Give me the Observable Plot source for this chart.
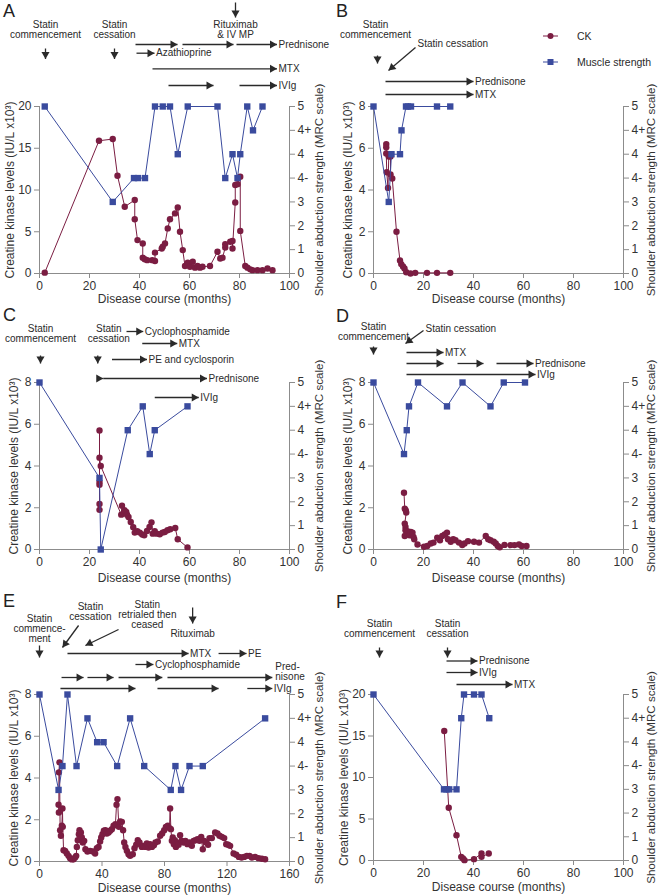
<!DOCTYPE html>
<html><head><meta charset="utf-8">
<script src="https://cdn.jsdelivr.net/npm/d3@7"></script>
<script src="https://cdn.jsdelivr.net/npm/@observablehq/plot@0.6"></script>
<style>
body{margin:0;background:#fff;font-family:"Liberation Sans",Arial,sans-serif;}
#root{position:relative;width:658px;height:896px;overflow:hidden;background:#fff}
#root svg{position:absolute;overflow:visible;background:transparent}
.letter{position:absolute;font-size:18px;line-height:18px;color:#222}
</style></head><body><div id="root"></div>
<script>
// ---------- shared ----------
const MRC = ["0","1","2","3","4-","4","4+","5"];
const SERIES = ["CK", "Muscle strength"];
const X_TITLE = "Disease course (months)";
const Y_TITLE = "Creatine kinase levels (IU/L x10³)";
const Y2_TITLE = "Shoulder abduction strength (MRC scale)";

// ---------- Panel A ----------
const A_ck = [[2.1,0.1],[23.8,15.9],[29.3,16.1],[31.2,11.7],[34.1,8.0],[38.1,8.8],[38.1,6.5],[39.2,4.0],[41.3,3.6],[41.3,1.9],[42.1,1.7],[43.1,1.6],[45.1,1.6],[46.2,1.5],[46.2,2.5],[48.9,3.0],[49.3,3.2],[50.2,3.6],[51.3,5.4],[52.2,6.5],[54.2,7.2],[55.3,7.9],[56.2,5.0],[57.3,2.8],[58.2,0.9],[59.3,1.3],[60.2,0.8],[61.3,1.4],[62.2,0.7],[63.2,0.9],[64.2,0.7],[65.2,0.8],[68.2,0.9],[71.2,2.6],[72.3,1.8],[73.2,1.9],[74.3,3.1],[74.3,3.5],[76.3,3.8],[77.2,3.9],[77.2,3.0],[78.3,8.5],[78.3,10.6],[79.2,10.7],[80.3,11.6],[80.3,5.1],[82.3,0.9],[83.2,0.7],[84.3,0.5],[85.2,0.4],[87.2,0.4],[89.2,0.4],[91.2,0.6],[93.2,0.4]];
const A_ms = [[2.1,"5"],[29.3,"3"],[37.8,"4-"],[39.4,"4-"],[42.2,"4-"],[46.2,"5"],[49.3,"5"],[52.2,"5"],[55.3,"4"],[59.3,"5"],[71.2,"5"],[74.3,"4-"],[77.2,"4"],[79.2,"4-"],[80.3,"4"],[83.1,"5"],[85.4,"4+"],[89.2,"5"]];
const A_events = [{t:"Statin\ncommencement",x:2.4},{t:"Statin\ncessation",x:30},{t:"Rituximab\n& IV MP",x:78.4}];
const A_treat = [{from:38.4,to:55.2,row:0},{from:57.2,to:77.6,row:0},{from:78.8,to:95,row:0,label:"Prednisone"},{from:38.8,to:46,row:1,label:"Azathioprine"},{from:45.2,to:95,row:2,label:"MTX"},{from:51.6,to:69.6,row:3},{from:80,to:95,row:3,label:"IVIg"}];

// ---------- Panel B ----------
const B_ck = [[5.1,6.2],[5.1,6.05],[5.1,5.75],[5.3,4.85],[5.8,4.1],[6.1,5.6],[6.8,5.6],[6.8,4.75],[7.5,4.55],[9.2,2.0],[10.6,0.62],[11.1,0.45],[11.8,0.34],[12.4,0.24],[13.1,0.06],[14.8,0],[16.7,0.03],[21.4,0.03],[25.4,0.03],[30.7,0.03]];
const B_ms = [[0,"5"],[6.1,"3"],[7.2,"4"],[10.6,"4"],[11.2,"4+"],[13.0,"5"],[13.8,"5"],[15.0,"5"],[25.4,"5"],[30.7,"5"]];
const B_events = [{t:"Statin\ncommencement",x:0.8,arrowX:1.6},{t:"Statin cessation",x:17.6,arrowFrom:16.8,arrowX:6}];
const B_treat = [{from:4.8,to:40,row:0,label:"Prednisone"},{from:4.8,to:40,row:1,label:"MTX"}];

// ---------- Panel C ----------
const C_ck = [[24,1.9],[24,2.18],[24,3.1],[24,3.23],[24,5.7],[24,4.4],[24.5,4.0],[32.7,1.67],[33,2.1],[34,1.88],[34.7,1.8],[35,1.67],[35.6,1.56],[36.5,1.32],[37.5,1.07],[38.1,0.81],[39.1,0.88],[40.1,0.81],[41.1,0.72],[41.9,0.68],[43,0.89],[44,1.08],[44.8,1.3],[45.3,0.76],[46.1,0.88],[46.9,0.76],[48.1,0.73],[49.2,0.81],[50.1,0.84],[51.2,0.92],[52.3,0.97],[54.3,1.03],[55.3,0.49],[59.2,0.1]];
const C_ms = [[0,"5"],[24,"3"],[24.5,"0"],[35.3,"4"],[41.3,"4+"],[44.1,"4-"],[46.1,"4"],[59.2,"4+"]];
const C_events = [{t:"Statin\ncommencement",x:0.4},{t:"Statin\ncessation",x:27.7,arrowX:23.3}];
const C_treat = [{from:34.8,to:41.5,row:0,label:"Cyclophosphamide"},{from:41.1,to:55.1,row:1,label:"MTX"},{from:29,to:43,row:2,label:"PE and cyclosporin"},{from:23.3,to:25.5,row:3},{from:25.5,to:67,row:3,label:"Prednisone"},{from:46.1,to:63.7,row:4,label:"IVIg"}];

// ---------- Panel D ----------
const D_ck = [[12.2,2.72],[12.5,1.96],[12.9,1.88],[13.1,1.77],[12.5,1.24],[12.8,1.08],[12.8,0.92],[12.5,0.65],[13.6,0.76],[13.8,0.87],[14.4,0.68],[14.9,0.84],[15.6,0.81],[16,0.6],[16.3,0.49],[17.6,0.24],[20.2,0.13],[21.5,0.17],[22.9,0.29],[24,0.33],[25.5,0.56],[26.6,0.44],[27.5,0.65],[28.5,0.72],[29.4,0.81],[29.8,0.49],[30.9,0.37],[31.9,0.49],[32.8,0.44],[34.2,0.33],[35.5,0.21],[36.4,0.29],[37.8,0.4],[40.2,0.37],[42.2,0.33],[44.9,0.65],[45.9,0.49],[46.8,0.44],[48.1,0.37],[48.9,0.29],[49.7,0.17],[50.5,0.11],[52.4,0.22],[54.8,0.21],[56.4,0.21],[58.2,0.24],[59.3,0.17],[61.2,0.17]];
const D_ms = [[0,"5"],[12.2,"4-"],[13.3,"4"],[14.2,"4+"],[17.8,"5"],[29.4,"4+"],[35.6,"5"],[46.8,"4+"],[52.1,"5"],[60.6,"5"]];
const D_events = [{t:"Statin\ncommencement",x:0},{t:"Statin cessation",x:20.8,arrowFrom:20,arrowX:12.8}];
const D_treat = [{from:13.2,to:28,row:0,label:"MTX"},{from:13.2,to:28,row:1},{from:33.6,to:44,row:1},{from:49.2,to:64,row:1,label:"Prednisone"},{from:13.2,to:64.8,row:2,label:"IVIg"}];

// ---------- Panel E ----------
const E_ck = [[12.2,2.72],[12.4,2.35],[12.4,4.27],[12.8,4.75],[13.2,1.5],[13.7,1.23],[14.3,1.71],[14.7,2.54],[14.9,1.66],[15.4,0.54],[16.4,0.51],[17.5,0.38],[18.6,0.27],[19.6,0.16],[20.7,0.1],[21.8,0.11],[22.8,0.19],[23.5,0.27],[23.9,0.7],[24.5,1.02],[25.2,1.31],[25.6,1.5],[26.5,1.39],[27.1,1.15],[27.7,0.91],[28.6,0.99],[29.4,0.59],[30.7,0.48],[32.4,0.51],[34.1,0.48],[35.6,0.38],[36.7,0.64],[37.8,0.7],[38.8,0.96],[39.5,1.15],[40.3,1.31],[41.2,1.47],[42.2,1.5],[43.1,1.34],[44.2,1.39],[45.2,1.47],[46.3,1.55],[47.4,1.71],[48.6,1.79],[49.3,2.72],[49.9,2.99],[50.8,1.66],[51.6,1.92],[52.7,1.9],[53.5,1.5],[54.2,0.91],[55,0.7],[55.9,0.51],[57,0.35],[58,0.27],[59.7,0.35],[60.8,0.64],[61.9,0.8],[62.9,1.02],[64,0.91],[65.5,0.7],[66.6,0.75],[67.8,0.7],[68.7,0.86],[69.8,0.67],[70.8,0.83],[71.9,0.7],[73.2,0.78],[74.2,0.91],[75.7,0.96],[77.2,1.23],[78.5,1.34],[79.8,1.5],[80.9,1.66],[82.1,1.71],[83.2,1.6],[83.6,2.54],[84.1,1.55],[84.7,0.99],[85.3,1.15],[86,0.83],[86.6,1.02],[87.3,0.7],[88.1,0.91],[89,0.8],[90,1.26],[91.1,0.99],[92.2,0.91],[93.4,0.99],[94.7,0.83],[96,0.91],[97.5,0.75],[98.6,0.99],[99.8,1.02],[101.1,1.07],[102.4,0.99],[103.5,1.18],[104.5,0.59],[105.4,0.99],[106.7,0.91],[107.9,0.8],[108.8,1.12],[110.3,1.12],[112.4,1.39],[113.9,1.34],[115.2,1.23],[116.7,1.18],[118.2,1.12],[119.5,0.83],[120.7,0.8],[122,0.75],[124.2,0.38],[125.9,0.32],[127.6,0.22],[129.3,0.19],[131,0.22],[132.7,0.27],[134.4,0.27],[135.9,0.19],[138,0.22],[140.2,0.16],[142.3,0.13],[144.4,0.11]];
const E_ms = [[0,"5"],[12.2,"3"],[14.7,"4-"],[17.9,"5"],[23.7,"4-"],[30.7,"4+"],[36.9,"4"],[41,"4"],[49.7,"4-"],[58,"4+"],[67,"4-"],[84,"3"],[87,"4-"],[90.6,"3"],[96,"4-"],[104.5,"4-"],[144.4,"4+"]];
const E_events = [{t:"Statin\ncommence-\nment",x:0},{t:"Statin\ncessation",x:32.6,arrowFrom:25,arrowX:14.7},{t:"Statin\nretrialed then\nceased",x:69,arrowFrom:50.6,arrowX:29.4},{t:"Rituximab",x:98},{t:"Pred-\nnisone",x:149}];
const E_treat = [{from:17.9,to:95.4,row:0,label:"MTX"},{from:114.6,to:132.5,row:0,label:"PE"},{from:61.4,to:72.9,row:1,label:"Cyclophosphamide"},{from:14.1,to:28.2,row:2},{from:30.7,to:47.4,row:2},{from:50.6,to:78.6,row:2},{from:81.9,to:149,row:2},{from:13.4,to:61.4,row:3},{from:75.5,to:114.6,row:3},{from:133,to:149,row:3,label:"IVIg"}];

// ---------- Panel F ----------
const F_ck = [[28.3,15.6],[30.1,6.35],[33.2,3.05],[35.1,0.44],[35.8,0.24],[36.4,0.04],[40.2,0.16],[43.2,0.84],[43.2,0.44],[46.1,0.84]];
const F_ms = [[0,"5"],[28.2,"3"],[29.2,"3"],[30.3,"3"],[33.2,"3"],[35.1,"4+"],[36.2,"5"],[40.2,"5"],[43.2,"5"],[46.3,"4+"]];
const F_events = [{t:"Statin\ncommencement",x:2.4},{t:"Statin\ncessation",x:29.6}];
const F_treat = [{from:29.2,to:41.6,row:0,label:"Prednisone"},{from:29.2,to:41.6,row:1,label:"IVIg"},{from:33.2,to:55.6,row:2,label:"MTX"}];

// ---------- styling / layout ----------
const INK = "#2a2a2a", AXIS = "#8c8c8c", CK_COLOR = "#7b1d42", MS_COLOR = "#3a4b9e";
const FONT = "Liberation Sans, Arial, Helvetica, sans-serif";
const HEAD_BACK = 4.66;

// layout: pixel heights (above plot top) for text / arrows of each event and each treatment row
const panels = [
  {id:"A", left:0, top:0, W:330, H:305, mL:39, mR:41, mT:106, mB:32, xmax:100, ymax:20,
   xticks:[0,20,40,60,80,100], yticks:[0,5,10,15,20], yTitleDx:-29, y2TitleDx:30, xTitleDy:26,
   ck:A_ck, ms:A_ms, events:A_events, treat:A_treat,
   evLayout:[{up:76.5,a1:58,a2:47.5},{up:76.5,a1:58,a2:47.5},{up:76.5,a1:104,a2:89}],
   rowUp:[62,53.3,37.7,21]},
  {id:"B", left:330, top:0, W:328, H:305, mL:43, mR:35, mT:106, mB:32, xmax:100, ymax:8,
   xticks:[0,20,40,60,80,100], yticks:[0,2,4,6,8], yTitleDx:-25, y2TitleDx:28, xTitleDy:26,
   ck:B_ck, ms:B_ms, events:B_events, treat:B_treat,
   evLayout:[{up:76.5,a1:51,a2:43},{up:63,anchor:"start",a1:59,a2:36}],
   rowUp:[25,12]},
  {id:"C", left:0, top:300, W:330, H:295, mL:39, mR:41, mT:82, mB:46, xmax:100, ymax:8,
   xticks:[0,20,40,60,80,100], yticks:[0,2,4,6,8], yTitleDx:-25, y2TitleDx:30, xTitleDy:28.5,
   ck:C_ck, ms:C_ms, events:C_events, treat:C_treat,
   evLayout:[{up:49,a1:27,a2:19},{up:49,a1:27,a2:19}],
   rowUp:[51,39,23,4,-15]},
  {id:"D", left:330, top:300, W:328, H:295, mL:43, mR:35, mT:82, mB:46, xmax:100, ymax:8,
   xticks:[0,20,40,60,80,100], yticks:[0,2,4,6,8], yTitleDx:-25, y2TitleDx:28, xTitleDy:28.5,
   ck:D_ck, ms:D_ms, events:D_events, treat:D_treat,
   evLayout:[{up:50.5,a1:36,a2:28},{up:54,anchor:"start",a1:52,a2:39}],
   rowUp:[30,19,8]},
  {id:"E", left:0, top:595, W:330, H:301, mL:39, mR:41, mT:99, mB:35, xmax:160, ymax:8,
   xticks:[0,40,80,120,160], yticks:[0,2,4,6,8], yTitleDx:-25, y2TitleDx:30, xTitleDy:27,
   ck:E_ck, ms:E_ms, events:E_events, treat:E_treat,
   evLayout:[{up:66,a1:49,a2:37},{up:82.5,a1:69,a2:47},{up:79.5,a1:65,a2:49},{up:61,a1:87,a2:71},{up:22.5,anchor:"start"}],
   rowUp:[41,30,17,6]},
  {id:"F", left:330, top:595, W:328, H:301, mL:43, mR:35, mT:99, mB:36, xmax:100, ymax:20,
   xticks:[0,20,40,60,80,100], yticks:[0,5,10,15,20], yTitleDx:-29, y2TitleDx:28, xTitleDy:27,
   ck:F_ck, ms:F_ms, events:F_events, treat:F_treat,
   evLayout:[{up:65.5,a1:47,a2:37},{up:65.5,a1:47,a2:37}],
   rowUp:[33.5,22,10]}
];
const letterPos = {A:[3,2],B:[336,2],C:[3,306],D:[336,307],E:[3,592],F:[336,593]};

const root = document.getElementById("root");

function drawPanel(p) {
  const plotW = p.W - p.mL - p.mR, plotH = p.H - p.mT - p.mB;
  const pxX = plotW / p.xmax, pxY = plotH / p.ymax;
  const yUp = up => p.ymax + up / pxY;
  const ck = p.ck.map(([m, v]) => ({m, v}));
  const ms = p.ms.map(([m, g]) => ({m, v: MRC.indexOf(g) * p.ymax / 7}));

  // event labels and pointer arrows
  const notesMid = [], notesStart = [], arrows = [];
  p.events.forEach((e, i) => {
    const L = p.evLayout[i];
    const note = {x: e.x, y: yUp(L.up), t: e.t};
    (L.anchor === "start" ? notesStart : notesMid).push(note);
    if (L.a1 !== undefined) {
      const xTip = e.arrowX ?? e.x;
      const xTail = e.arrowFrom ?? xTip;
      arrows.push({x1: xTail, y1: yUp(L.a1), x2: xTip, y2: yUp(L.a2)});
    }
  });
  // treatment arrows
  const rowLabels = [];
  p.treat.forEach(r => {
    const y = yUp(p.rowUp[r.row]);
    arrows.push({x1: r.from, y1: y, x2: r.to, y2: y});
    if (r.label) rowLabels.push({x: r.to, y, t: r.label});
  });
  const heads = arrows.map(a => {
    const sx = (a.x2 - a.x1) * pxX, sy = -(a.y2 - a.y1) * pxY;
    const len = Math.hypot(sx, sy) || 1;
    return {x: a.x2 - (sx / len * HEAD_BACK) / pxX,
            y: a.y2 + (sy / len * HEAD_BACK) / pxY,
            angle: Math.atan2(sx, -sy) * 180 / Math.PI};
  });
  const mrcTicks = d3.range(8).map(i => i * p.ymax / 7);

  const svg = Plot.plot({
    width: p.W, height: p.H,
    marginLeft: p.mL, marginRight: p.mR, marginTop: p.mT, marginBottom: p.mB,
    x: {domain: [0, p.xmax], label: null},
    y: {domain: [0, p.ymax], label: null},
    style: {fontFamily: FONT, fontSize: "12px", color: "#333", background: "transparent", overflow: "visible"},
    marks: [
      Plot.ruleY([0], {stroke: AXIS}),
      Plot.ruleX([0], {y1: 0, y2: p.ymax, stroke: AXIS}),
      Plot.ruleX([p.xmax], {y1: 0, y2: p.ymax, stroke: AXIS}),
      Plot.axisX(p.xticks, {anchor: "bottom", tickSize: 5, tickPadding: 3, stroke: AXIS, label: null}),
      Plot.axisY(p.yticks, {anchor: "left", tickSize: 5, tickPadding: 3, stroke: AXIS, label: null}),
      Plot.axisY(mrcTicks, {anchor: "right", tickSize: 5, tickPadding: 3, stroke: AXIS, label: null,
        tickFormat: d => MRC[Math.round(d * 7 / p.ymax)]}),
      Plot.text([X_TITLE], {frameAnchor: "bottom", dy: p.xTitleDy, textAnchor: "middle", lineAnchor: "middle", fontSize: 12, fill: "#333"}),
      Plot.text([Y_TITLE], {frameAnchor: "left", dx: p.yTitleDx, rotate: -90, textAnchor: "middle", lineAnchor: "middle", fontSize: 12, fill: "#333"}),
      Plot.text([Y2_TITLE], {frameAnchor: "right", dx: p.y2TitleDx, rotate: -90, textAnchor: "middle", lineAnchor: "middle", fontSize: 11.6, fill: "#333"}),
      // data
      Plot.line(ck, {x: "m", y: "v", stroke: CK_COLOR, strokeWidth: 1}),
      Plot.dot(ck, {x: "m", y: "v", r: 3.2, fill: CK_COLOR}),
      Plot.line(ms, {x: "m", y: "v", stroke: MS_COLOR, strokeWidth: 1}),
      Plot.dot(ms, {x: "m", y: "v", symbol: "square", r: 3.6, fill: MS_COLOR}),
      // annotations
      Plot.link(arrows, {x1: "x1", y1: "y1", x2: "x2", y2: "y2", stroke: INK, strokeWidth: 1.3}),
      Plot.dot(heads, {x: "x", y: "y", rotate: "angle", symbol: "triangle", r: 3, fill: INK}),
      Plot.text(notesMid, {x: "x", y: "y", text: "t", textAnchor: "middle", lineAnchor: "middle", lineHeight: 1, fontSize: 10, fill: INK}),
      Plot.text(notesStart, {x: "x", y: "y", text: "t", textAnchor: "start", lineAnchor: "middle", lineHeight: 1, fontSize: 10, fill: INK, dx: p.id === "E" ? 3 : 0}),
      Plot.text(rowLabels, {x: "x", y: "y", text: "t", textAnchor: "start", lineAnchor: "middle", fontSize: 10, fill: INK, dx: 1.5})
    ]
  });
  svg.style.left = p.left + "px";
  svg.style.top = p.top + "px";
  root.appendChild(svg);

  const L = document.createElement("div");
  L.className = "letter";
  L.textContent = p.id;
  L.style.left = letterPos[p.id][0] + "px";
  L.style.top = letterPos[p.id][1] + "px";
  root.appendChild(L);
}
panels.forEach(drawPanel);

// legend (panel B)
const leg = d3.select(root).append("svg")
  .attr("width", 120).attr("height", 50)
  .style("left", "540px").style("top", "26px");
SERIES.forEach((s, i) => {
  const g = leg.append("g").attr("transform", `translate(0,${10 + i * 26})`);
  const col = i === 0 ? CK_COLOR : MS_COLOR;
  g.append("line").attr("x1", 3).attr("x2", 18).attr("stroke", col).attr("stroke-width", 1);
  if (i === 0) g.append("circle").attr("cx", 10.5).attr("r", 3).attr("fill", col);
  else g.append("rect").attr("x", 7.5).attr("y", -3).attr("width", 6).attr("height", 6).attr("fill", col);
  g.append("text").attr("x", 37).attr("dy", "0.35em").attr("font-size", 10.5)
    .attr("font-family", FONT).attr("fill", INK).text(s);
});
</script>
</body></html>
